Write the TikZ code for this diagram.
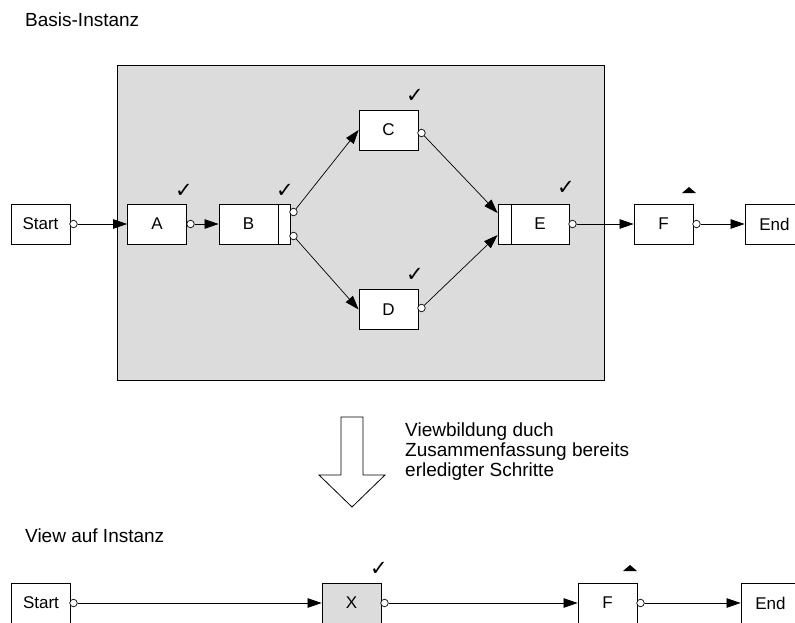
\documentclass[tikz,border=0pt]{standalone}
\usepackage{fontspec}
\setmainfont{Liberation Sans}
\newfontfamily\symfont{DejaVu Sans}
\usetikzlibrary{arrows.meta}
\definecolor{panel}{RGB}{220,220,220}
\tikzset{
  box/.style={draw=black, line width=0.8pt, fill=white, minimum width=59pt, minimum height=40pt, inner sep=0pt, font=\fontsize{17}{17}\selectfont},
  bar/.style={draw=black, line width=0.8pt, fill=white, minimum height=40pt, inner sep=0pt},
  port/.style={circle, draw=black, line width=0.7pt, fill=white, minimum size=7.5pt, inner sep=0pt},
  conn/.style={draw=black, line width=0.7pt, -{Triangle[length=14pt,width=9.5pt]}},
  lbl/.style={font=\fontsize{19}{20}\selectfont, inner sep=0pt},
  chk/.style={font=\symfont\fontsize{21}{21}\selectfont, inner sep=0pt},
}
\begin{document}
\begin{tikzpicture}[x=1pt,y=-1pt]
\useasboundingbox (0,0) rectangle (795,623);
\clip (0,0) rectangle (795,623);
% titles
\node[lbl, anchor=base west] (t1) at (25,27) {Basis-Instanz};
\node[lbl, anchor=base west] (t2) at (25,542) {View auf Instanz};
% grey panel
\draw[line width=1pt, fill=panel] (117,66) rectangle (604,380);
% top row
\node[box] (S) at (40.5,224) {Start};
\node[box] (A) at (157,224) {A};
\node[box] (B) at (248.5,224) {B};
\node[bar, minimum width=12pt] (Bb) at (284,224) {};
\node[box] (C) at (388.5,130) {C};
\node[box] (D) at (388.5,309.5) {D};
\node[bar, minimum width=13pt] (Eb) at (504.5,224) {};
\node[box, minimum width=58pt] (E) at (540,224) {E};
\node[box] (F) at (663.5,224) {F};
\node[box] (End) at (774.5,224) {End};
% ports
\node[port] (pS) at (73.5,224) {};
\node[port] (pA) at (190.5,224) {};
\node[port] (pB1) at (293.5,212) {};
\node[port] (pB2) at (293.5,236) {};
\node[port] (pC) at (421.5,133) {};
\node[port] (pD) at (421.5,308) {};
\node[port] (pE) at (572.5,224) {};
\node[port] (pF) at (696.5,224) {};
% connectors
\draw[conn] (pS) -- (A);
\draw[conn] (pA) -- (B);
\draw[conn] (pB1) -- (C.west);
\draw[conn] (pB2) -- (D.west);
\draw[conn] (pC) -- ([yshift=11pt]Eb.west);
\draw[conn] (pD) -- ([yshift=-11pt]Eb.west);
\draw[conn] (pE) -- (F);
\draw[conn] (pF) -- (End);
% marks
\node[chk] (cA) at (184,191) {✓};
\node[chk] (cB) at (285,191) {✓};
\node[chk] (cC) at (415,96) {✓};
\node[chk] (cD) at (415,275) {✓};
\node[chk] (cE) at (566,188) {✓};
\fill (682,193) -- (696,193) -- (689,187) -- cycle;
% transition arrow
\draw[line width=0.8pt, fill=white] (341,417) -- (363,417) -- (363,475) -- (385,475) -- (352,507) -- (319,475) -- (341,475) -- cycle;
\node[lbl, anchor=north west, align=left] (desc) at (405,423) {Viewbildung duch\\Zusammenfassung bereits\\erledigter Schritte};
% bottom row
\node[box] (S2) at (41,603) {Start};
\node[box, fill=panel] (X) at (351.5,603) {X};
\node[box] (F2) at (607.5,603) {F};
\node[box] (End2) at (770.5,603) {End};
\node[port] (pS2) at (73.5,603) {};
\node[port] (pX) at (384.5,603) {};
\node[port] (pF2) at (640.5,603) {};
\draw[conn] (pS2) -- (X);
\draw[conn] (pX) -- (F2);
\draw[conn] (pF2) -- (End2);
\node[chk] (cX) at (379,569) {✓};
\fill (623,571) -- (637,571) -- (630,565) -- cycle;
\end{tikzpicture}
\end{document}
